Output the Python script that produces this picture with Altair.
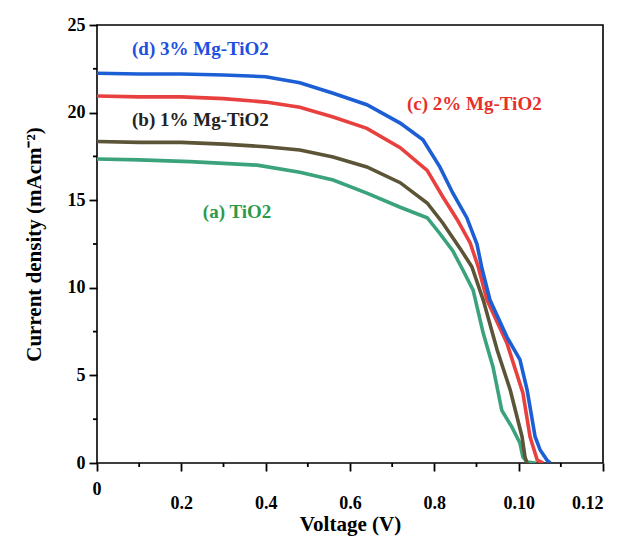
import altair as alt
import pandas as pd

# ---- data ----
v_a = [0, 0.01, 0.022, 0.03, 0.038, 0.0481, 0.056, 0.064, 0.0719, 0.0783, 0.0813, 0.0844, 0.0868, 0.0892, 0.0916, 0.0939, 0.096, 0.0984, 0.1003, 0.101, 0.102, 0.104]
j_a = [17.35, 17.3, 17.2, 17.1, 17.0, 16.6, 16.15, 15.4, 14.6, 14.0, 13.1, 12.1, 11.0, 9.87, 7.4, 5.5, 3.0, 2.05, 1.14, 0.34, 0.05, 0]

v_b = [0, 0.01, 0.02, 0.03, 0.04, 0.0481, 0.056, 0.064, 0.0719, 0.0783, 0.082, 0.0861, 0.0889, 0.0916, 0.0949, 0.098, 0.1008, 0.1015, 0.102]
j_b = [18.35, 18.3, 18.3, 18.2, 18.05, 17.87, 17.47, 16.9, 16.0, 14.84, 13.7, 12.25, 11.2, 9.3, 6.45, 4.17, 1.5, 0.34, 0]

v_c = [0, 0.01, 0.02, 0.03, 0.04, 0.0481, 0.056, 0.064, 0.0719, 0.0783, 0.082, 0.0854, 0.0885, 0.0904, 0.0925, 0.0972, 0.101, 0.1027, 0.1044, 0.1058]
j_c = [20.95, 20.9, 20.9, 20.8, 20.6, 20.3, 19.75, 19.1, 18.0, 16.7, 15.2, 13.9, 12.56, 11.2, 9.3, 6.85, 4.0, 1.5, 0.17, 0]

v_d = [0, 0.01, 0.02, 0.03, 0.04, 0.0481, 0.056, 0.064, 0.0719, 0.0773, 0.0813, 0.0844, 0.0877, 0.0901, 0.0913, 0.0932, 0.0972, 0.1003, 0.102, 0.1039, 0.1051, 0.1067, 0.1075]
j_d = [22.25, 22.2, 22.2, 22.15, 22.05, 21.7, 21.1, 20.45, 19.4, 18.45, 16.9, 15.4, 14.0, 12.5, 11.1, 9.3, 7.2, 5.9, 4.17, 1.5, 0.74, 0.17, 0]

series_names = ["(a) TiO2", "(b) 1% Mg-TiO2", "(c) 2% Mg-TiO2", "(d) 3% Mg-TiO2"]
line_colors = ["#3aa37c", "#5b5436", "#e8403f", "#1c5fd4"]
text_colors = ["#2c9a4a", "#222222", "#e8302a", "#1f4fe0"]

# annotation anchor points (data units)
label_v = [0.0251, 0.0083, 0.0735, 0.0083]
label_j = [14.33, 19.58, 20.49, 23.63]

x_major = [0, 0.02, 0.04, 0.06, 0.08, 0.10, 0.12]
x_major_text = ["0", "0.2", "0.4", "0.6", "0.8", "0.10", "0.12"]
x_minor = [0.01, 0.03, 0.05, 0.07, 0.09, 0.11]
y_major = [0, 5, 10, 15, 20, 25]
y_minor = [2.5, 7.5, 12.5, 17.5, 22.5]

W, H = 506, 438
X_DOM, Y_DOM = [0, 0.12], [0, 25]
MAJ, MIN = 8, 4  # tick lengths in pixels
FONT = "Liberation Serif"

rows = []
for name, vs, js in zip(series_names, [v_a, v_b, v_c, v_d], [j_a, j_b, j_c, j_d]):
    for i, (v, j) in enumerate(zip(vs, js)):
        rows.append({"series": name, "V": v, "J": j, "i": i})
df = pd.DataFrame(rows)

lab = pd.DataFrame({"series": series_names, "V": label_v, "J": label_j, "tc": text_colors})

# minor tick segments built from the minor tick values (length converted from pixels to data units)
px_x = (X_DOM[1] - X_DOM[0]) / W
px_y = (Y_DOM[1] - Y_DOM[0]) / H
tick_rows = []
k = 0
for v in x_minor:
    tick_rows += [{"id": k, "V": v, "J": 0, "o": 0}, {"id": k, "V": v, "J": -MIN * px_y, "o": 1}]
    k += 1
for j in y_minor:
    tick_rows += [{"id": k, "V": 0, "J": j, "o": 0}, {"id": k, "V": -MIN * px_x, "J": j, "o": 1}]
    k += 1
ticks_df = pd.DataFrame(tick_rows)
zero_df = pd.DataFrame({"V": [x_major[0]], "t": [x_major_text[0]]})

label_expr = "[" + ",".join("'%s'" % t for t in x_major_text) + "]"
x_axis = alt.Axis(
    values=x_major,
    labelExpr=f"datum.value == 0 ? '' : {label_expr}[round(datum.value*50)]",
    ticks=True,
    tickSize=MAJ,
    domain=False,
    title="Voltage (V)",
    labelFontSize=18,
    labelPadding=23,
    titleFontSize=21,
    titlePadding=1,
)
y_axis = alt.Axis(
    values=y_major,
    ticks=True,
    tickSize=MAJ,
    domain=False,
    title="Current density (mAcm⁻²)",
    labelFontSize=18,
    labelPadding=4,
    titleFontSize=21,
    titlePadding=23,
)

xs = alt.Scale(domain=X_DOM, nice=False)
ys = alt.Scale(domain=Y_DOM, nice=False)
x = alt.X("V:Q", scale=xs, axis=x_axis)
y = alt.Y("J:Q", scale=ys, axis=y_axis)

lines = alt.Chart(df).mark_line(strokeWidth=3.6, clip=True).encode(
    x=x,
    y=y,
    color=alt.Color("series:N", scale=alt.Scale(domain=series_names, range=line_colors), legend=None),
    order="i:Q",
    detail="series:N",
)

texts = alt.Chart(lab).mark_text(
    align="left", baseline="middle", font=FONT, fontWeight="bold", fontSize=19
).encode(
    x="V:Q",
    y="J:Q",
    text="series:N",
    color=alt.Color("tc:N", scale=None),
)

minor_ticks = alt.Chart(ticks_df).mark_line(color="#000000", strokeWidth=1.8, clip=False).encode(
    x=alt.X("V:Q", scale=xs),
    y=alt.Y("J:Q", scale=ys),
    detail="id:N",
    order="o:Q",
)

zero_label = alt.Chart(zero_df).mark_text(
    font=FONT, fontWeight="bold", fontSize=18, align="center", baseline="middle", color="black"
).encode(x=alt.X("V:Q", scale=xs), y=alt.value(H + 27), text="t:N")

chart = (
    alt.layer(lines, texts, minor_ticks, zero_label)
    .properties(
        width=W,
        height=H,
        padding={"left": 89, "top": 17, "right": 15, "bottom": 75},
        autosize=alt.AutoSizeParams(type="none"),
        background="white",
    )
    .configure_view(stroke="black", strokeWidth=1.6)
    .configure_axis(
        grid=False,
        tickColor="#000000",
        tickWidth=1.8,
        tickOpacity=1,
        labelFont=FONT,
        labelFontWeight="bold",
        labelColor="black",
        titleFont=FONT,
        titleFontWeight="bold",
        titleColor="black",
    )
)

chart.save("out.html", embed_options={"renderer": "svg", "actions": False})
